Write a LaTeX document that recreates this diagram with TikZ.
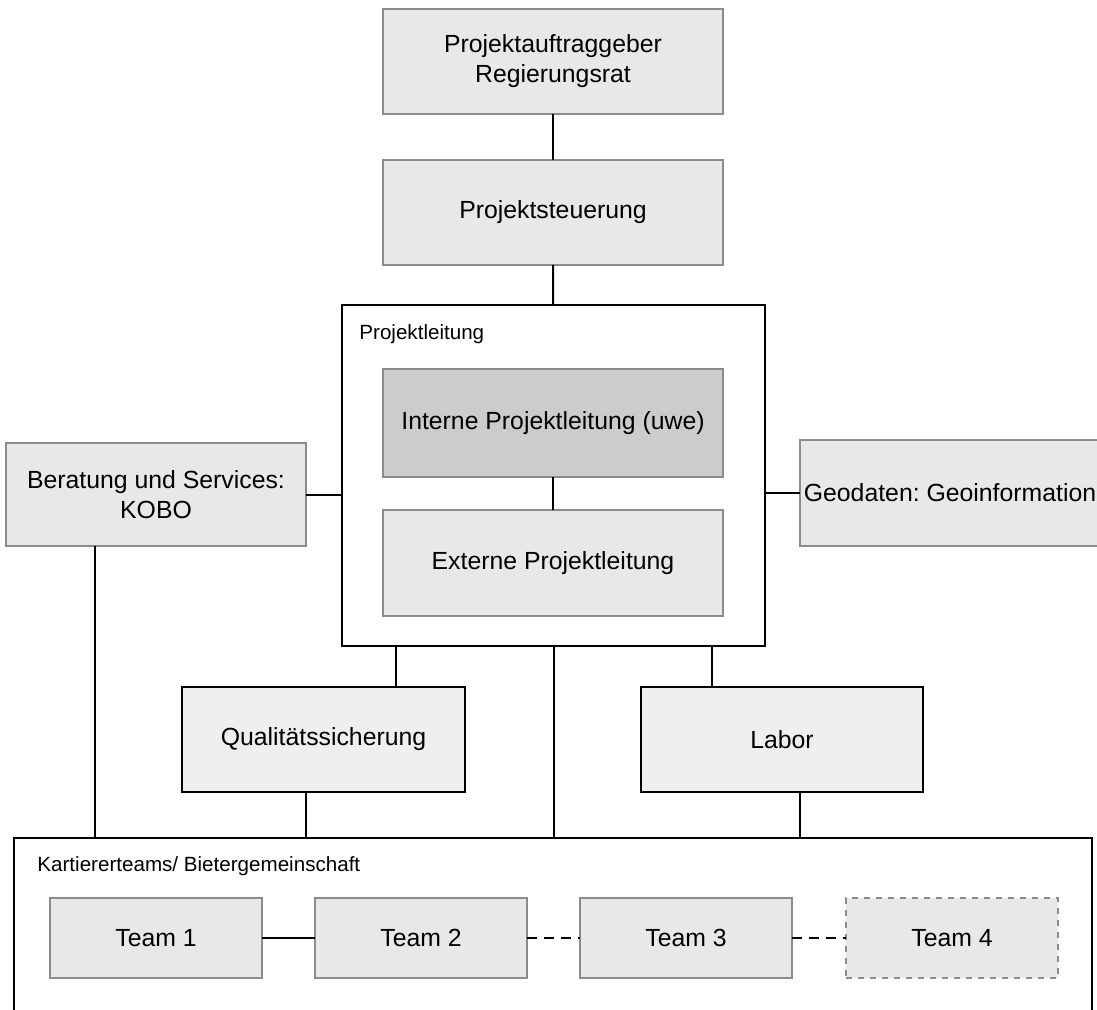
\documentclass[tikz,border=0pt]{standalone}
\usepackage{fontspec}
\setmainfont{Liberation Sans}
\frenchspacing
\usetikzlibrary{calc}

\definecolor{boxfill}{HTML}{E8E8E8}
\definecolor{boxline}{HTML}{8C8C8C}
\definecolor{darkfill}{HTML}{CCCCCC}
\definecolor{lightfill}{HTML}{EFEFEF}

\tikzset{
  grey box/.style={draw=boxline, fill=boxfill, line width=0.75pt, inner sep=0pt,
    outer sep=0pt, align=center, font=\fontsize{12.4}{15}\selectfont},
  black box/.style={draw=black, fill=lightfill, line width=1pt, inner sep=0pt,
    outer sep=0pt, align=center, font=\fontsize{12.4}{15}\selectfont},
  frame box/.style={draw=black, fill=white, line width=1pt, inner sep=0pt, outer sep=0pt},
  small label/.style={anchor=west, inner sep=0pt, font=\fontsize{10.3}{12}\selectfont},
  link/.style={draw=black, line width=1pt},
  dashlink/.style={link, dash pattern=on 5pt off 3.5pt}
}

\begin{document}
\begin{tikzpicture}[x=0.5pt, y=-0.5pt]
    \clip (0,0) rectangle (1097,1010);
    \useasboundingbox (0,0) rectangle (1097,1010);

    % frames
    \node[frame box, minimum width=211.5pt, minimum height=170.5pt] (leitung) at (553.5,475.5) {};
    \node[small label] (leitunglabel) at (359,334) {Projektleitung};
    \node[frame box, minimum width=539pt, minimum height=96pt] (kartierer) at (553,934) {};
    \node[small label] (kartiererlabel) at (37,866) {Kartiererteams/ Bietergemeinschaft};

    % boxes
    \node[grey box, minimum width=170pt, minimum height=52.5pt] (auftrag) at (553,61.5) {Projektauftraggeber\\Regierungsrat};
    \node[grey box, minimum width=170pt, minimum height=52.5pt] (steuerung) at (553,212.5) {Projektsteuerung};
    \node[grey box, fill=darkfill, minimum width=170pt, minimum height=54pt] (interne) at (553,423) {Interne Projektleitung (uwe)};
    \node[grey box, minimum width=170pt, minimum height=53pt] (externe) at (553,563) {Externe Projektleitung};
    \node[grey box, minimum width=150pt, minimum height=51.5pt] (beratung) at (156,494.5) {Beratung und Services:\\KOBO};
    \node[grey box, minimum width=150pt, minimum height=53pt] (geodaten) at (950,493) {Geodaten: Geoinformation};
    \node[black box, minimum width=141.5pt, minimum height=52.5pt] (quali) at (323.5,739.5) {Qualitätssicherung};
    \node[black box, minimum width=141pt, minimum height=52.5pt] (labor) at (782,739.5) {Labor};

    % teams
    \node[grey box, minimum width=106pt, minimum height=40pt] (team1) at (156,938) {Team 1};
    \node[grey box, minimum width=106pt, minimum height=40pt] (team2) at (421,938) {Team 2};
    \node[grey box, minimum width=106pt, minimum height=40pt] (team3) at (686,938) {Team 3};
    \node[grey box, dashed, minimum width=106pt, minimum height=40pt] (team4) at (952,938) {Team 4};

    % connectors
    \draw[link] (auftrag) -- (steuerung);
    \draw[link] (steuerung) -- (leitung);
    \draw[link] (interne) -- (externe);
    \draw[link] (beratung.east) -- (beratung.east -| leitung.west);
    \draw[link] (leitung.east |- geodaten.west) -- (geodaten.west);
    \draw[link] ([xshift=27pt]leitung.south west) -- ([xshift=27pt]leitung.south west |- quali.north);
    \draw[link] ([xshift=-26.5pt]leitung.south east) -- ([xshift=-26.5pt]leitung.south east |- labor.north);
    \draw[link] (leitung.south) -- (leitung.south |- kartierer.north);
    \draw[link] ([xshift=-30.5pt]beratung.south) -- ([xshift=-30.5pt]beratung.south |- kartierer.north);
    \draw[link] ([xshift=-8.75pt]quali.south) -- ([xshift=-8.75pt]quali.south |- kartierer.north);
    \draw[link] ([xshift=9pt]labor.south) -- ([xshift=9pt]labor.south |- kartierer.north);
    \draw[link] (team1) -- (team2);
    \draw[dashlink] (team2) -- (team3);
    \draw[dashlink] (team3) -- (team4);
\end{tikzpicture}
\end{document}
